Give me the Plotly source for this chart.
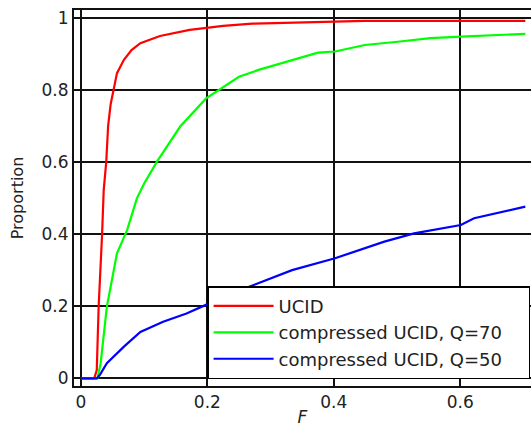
import plotly.graph_objects as go

ucid_x = [0, 0.021, 0.025, 0.028, 0.0335, 0.036, 0.040, 0.043, 0.047, 0.052, 0.057, 0.068, 0.080, 0.094, 0.125, 0.172, 0.225, 0.271, 0.36, 0.449, 0.55, 0.65, 0.703]
ucid_y = [0, 0, 0.023, 0.199, 0.402, 0.522, 0.60, 0.70, 0.76, 0.80, 0.846, 0.883, 0.91, 0.929, 0.949, 0.966, 0.977, 0.983, 0.986, 0.991, 0.991, 0.991, 0.991]

q70_x = [0, 0.026, 0.031, 0.036, 0.041, 0.057, 0.073, 0.0885, 0.10, 0.12, 0.157, 0.198, 0.218, 0.25, 0.281, 0.328, 0.375, 0.402, 0.449, 0.501, 0.553, 0.601, 0.65, 0.703]
q70_y = [0, 0, 0.04, 0.12, 0.199, 0.347, 0.411, 0.499, 0.54, 0.60, 0.698, 0.776, 0.80, 0.836, 0.855, 0.878, 0.903, 0.906, 0.924, 0.933, 0.943, 0.947, 0.951, 0.955]

q50_x = [0, 0.025, 0.03, 0.041, 0.068, 0.094, 0.13, 0.167, 0.203, 0.266, 0.334, 0.402, 0.48, 0.527, 0.601, 0.622, 0.703]
q50_y = [0, 0, 0.01, 0.042, 0.088, 0.129, 0.157, 0.18, 0.208, 0.254, 0.30, 0.333, 0.379, 0.402, 0.425, 0.444, 0.476]

names = ["UCID", "compressed UCID, Q=70", "compressed UCID, Q=50"]
colors = ["#ff0000", "#00ff00", "#0000ff"]

fig = go.Figure()
for i, (xs, ys) in enumerate([(ucid_x, ucid_y), (q70_x, q70_y), (q50_x, q50_y)]):
    fig.add_trace(go.Scatter(x=xs, y=ys, mode="lines", name=names[i],
                             line=dict(color=colors[i], width=2.2)))

font = "DejaVu Sans"
fig.update_layout(
    width=531, height=427,
    margin=dict(l=74, r=0, t=10, b=41),
    plot_bgcolor="white", paper_bgcolor="white",
    font=dict(family=font, size=17, color="#222"),
    showlegend=True,
    legend=dict(x=0.998, y=0.018, xanchor="right", yanchor="bottom",
                orientation="h", entrywidth=245, entrywidthmode="pixels",
                bordercolor="black", borderwidth=1.5, bgcolor="white",
                font=dict(family=font, size=18, color="#222"),
                itemwidth=60),
    xaxis=dict(range=[-0.011, 0.712], tick0=0, dtick=0.2,
               showgrid=True, gridcolor="#111", gridwidth=1.6,
               zeroline=False, showline=True, linecolor="#111", linewidth=2,
               mirror=True, ticks="", automargin=False,
               title=dict(text="<i>F</i>", standoff=12, font=dict(size=17))),
    yaxis=dict(range=[-0.021, 1.021], automargin=False,
               tickvals=[0, 0.2, 0.4, 0.6, 0.8, 1], ticktext=["0", "0.2", "0.4", "0.6", "0.8", "1"],
               showgrid=True, gridcolor="#111", gridwidth=1.6,
               zeroline=False, showline=True, linecolor="#111", linewidth=2,
               mirror=False, ticks="",
               title=dict(text="Proportion", standoff=14, font=dict(size=16))),
)

fig.write_html("out.html")
